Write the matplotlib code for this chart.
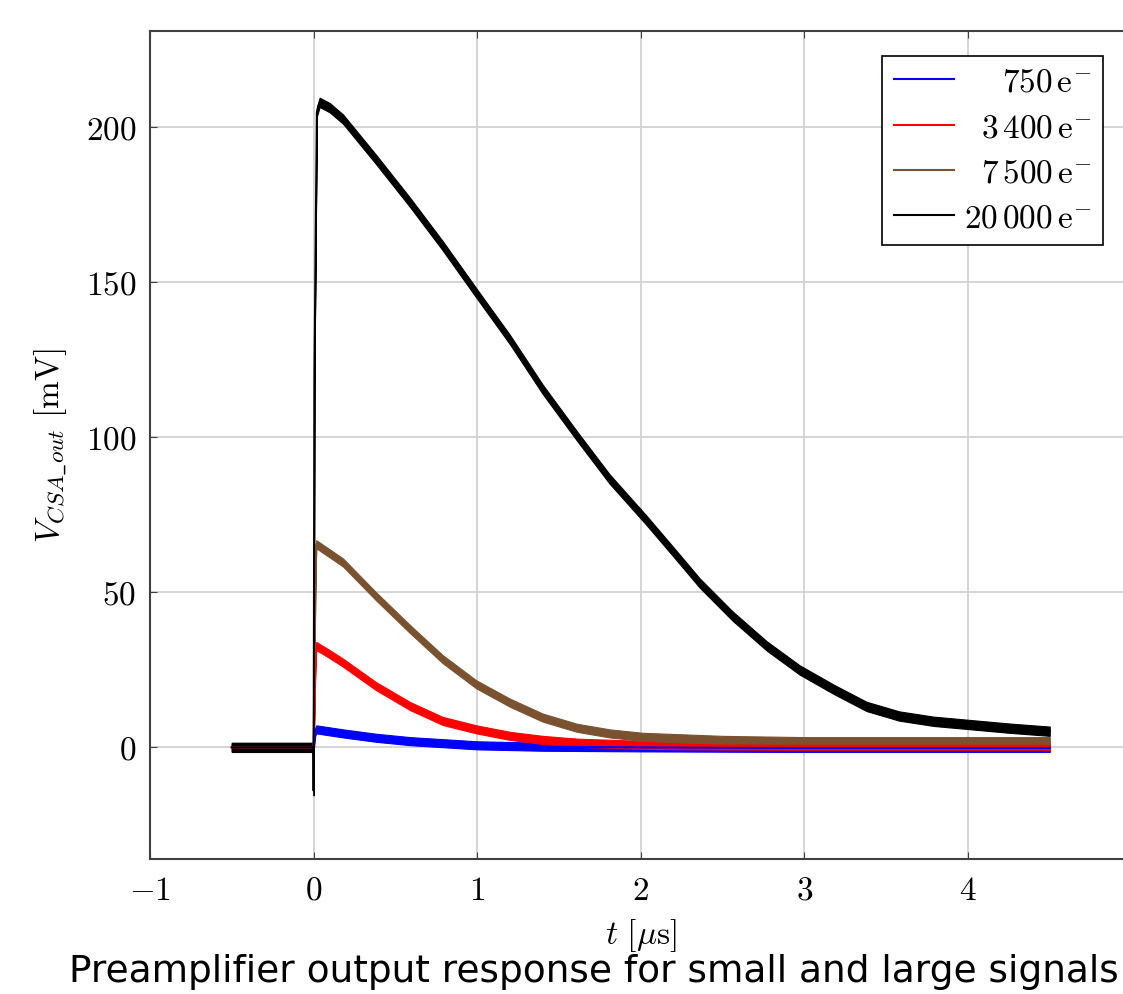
import matplotlib
matplotlib.use("Agg")
import matplotlib.pyplot as plt
import numpy as np

plt.rcParams["mathtext.fontset"] = "cm"
plt.rcParams["font.family"] = "serif"
plt.rcParams["font.serif"] = ["cmr10", "DejaVu Serif"]
plt.rcParams["axes.formatter.use_mathtext"] = True

# traces: time [us], output [mV]
t_750 = [-0.5, 0.0, 0.01, 0.016, 0.18, 0.38, 0.59, 1.0, 1.4, 2.0, 3.0, 4.5]
v_750 = [0.0, 0.0, 5.0, 5.8, 4.5, 3.1, 2.0, 0.65, 0.2, 0.0, -0.2, -0.2]

t_3400 = [-0.5, 0.0, 0.01, 0.016, 0.1, 0.18, 0.38, 0.59, 0.79, 0.995, 1.2, 1.4, 1.61, 2.01,
          2.5, 3.0, 4.5]
v_3400 = [0.0, 0.0, 25.0, 32.7, 30.0, 27.3, 19.8, 13.3, 8.5, 5.8, 3.7, 2.4, 1.5, 0.8,
          0.6, 0.5, 0.5]

t_7500 = [-0.5, 0.0, 0.01, 0.016, 0.1, 0.18, 0.38, 0.59, 0.79, 0.995, 1.2, 1.4, 1.61, 1.81,
          2.01, 2.5, 3.0, 4.5]
v_7500 = [0.0, 0.0, 50.0, 65.5, 62.5, 59.6, 48.8, 38.1, 28.4, 20.3, 14.4, 9.6, 6.3, 4.5,
          3.4, 2.4, 2.0, 2.0]

t_20000 = [-0.5, -0.001, 0.0, 0.005, 0.02, 0.037, 0.098, 0.18, 0.38, 0.59, 0.79, 0.995,
           1.2, 1.4, 1.61, 1.81, 2.03, 2.2, 2.36, 2.56, 2.77, 2.97, 3.18, 3.38, 3.58,
           3.79, 4.0, 4.25, 4.5]
v_20000 = [0.0, 0.0, -14.0, 120.0, 205.0, 208.0, 206.3, 202.6, 189.7, 175.7, 161.7, 146.5,
           131.5, 115.5, 100.4, 86.5, 73.5, 63.0, 53.0, 42.4, 32.7, 25.0, 18.7, 13.2, 10.1,
           8.4, 7.4, 6.2, 5.2]

labels = [r"$750\,\mathrm{e}^{-}$", r"$3\,400\,\mathrm{e}^{-}$",
          r"$7\,500\,\mathrm{e}^{-}$", r"$20\,000\,\mathrm{e}^{-}$"]
colors = ["#0000ff", "#ff0000", "#7b5230", "#000000"]
series = [(t_750, v_750), (t_3400, v_3400), (t_7500, v_7500), (t_20000, v_20000)]
noise = [1.3, 1.3, 1.3, 1.5]  # half width of the noisy band, mV

fig = plt.figure(figsize=(11.23, 9.95), dpi=100)
ax = fig.add_axes([0.1336, 0.1357, 0.874, 0.8321])

for (t, v), c, lab, nz in zip(series, colors, labels, noise):
    t = np.asarray(t)
    v = np.asarray(v)
    ax.fill_between(t, v - nz, v + nz, color=c, lw=0.8)
    ax.plot(t, v, color=c, lw=1.5, label=lab, solid_joinstyle="round")

ax.set_xlim(-1, 5)
ax.set_ylim(-36, 231)
ax.set_xticks([-1, 0, 1, 2, 3, 4, 5])
ax.set_yticks([0, 50, 100, 150, 200])
ax.grid(True, color="#d2d2d2", lw=1.3)
ax.set_axisbelow(True)
for s in ax.spines.values():
    s.set_color("#404040")
    s.set_linewidth(1.5)
ax.tick_params(direction="in", length=5, width=0.8, colors="#404040", labelcolor="black",
               labelsize=24, top=True, right=True)
ax.tick_params(axis="x", pad=12)
ax.tick_params(axis="y", pad=10)

ax.set_xlabel(r"$t\ [\mu\mathrm{s}]$", fontsize=24, labelpad=8)
ax.set_ylabel(r"$V_{CSA\_out}\ [\mathrm{mV}]$", fontsize=24, labelpad=12)

leg = ax.legend(loc="upper right", bbox_to_anchor=(0.971, 0.970), borderaxespad=0,
                fontsize=24, frameon=True, fancybox=False, edgecolor="black",
                framealpha=1, handlelength=1.8, handletextpad=0.3, labelspacing=0.48,
                borderpad=0.35)
leg.get_frame().set_linewidth(1.2)

# right align the legend labels
fig.canvas.draw()
r = fig.canvas.get_renderer()
texts = leg.get_texts()
widths = [t.get_window_extent(r).width for t in texts]
shift = max(widths)
for t, w in zip(texts, widths):
    t.set_position((shift - w, 0))

fig.text(0.529, 0.023, "Preamplifier output response for small and large signals",
         family="DejaVu Sans", fontsize=27, ha="center", va="center")

fig.savefig("out.png", dpi=100)
